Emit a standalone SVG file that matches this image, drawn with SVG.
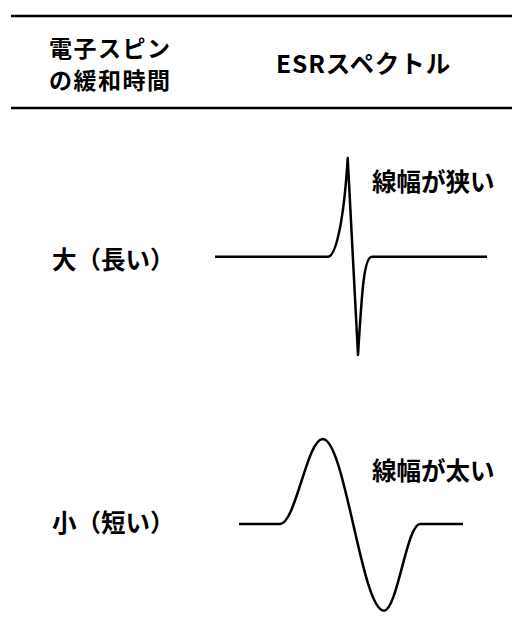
<svg xmlns="http://www.w3.org/2000/svg" width="512" height="635" viewBox="0 0 512 635">
<style>
.t{font-family:"Noto Sans CJK JP","Noto Sans",sans-serif;font-weight:bold;fill:#000;font-size:24.5px}
.h2{font-size:23px;letter-spacing:1.5px}
.rule{stroke:#000;stroke-width:2.5;fill:none}
.curve{stroke:#000;stroke-width:2.5;fill:none;stroke-linejoin:round;stroke-linecap:butt}
</style>
<rect width="512" height="635" fill="#fff"/>
<g id="header">
<line class="rule" x1="11" y1="16" x2="512" y2="16"/>
<line class="rule" x1="11" y1="108" x2="512" y2="108"/>
<text class="t h2" x="49" y="57">電子スピン</text>
<text class="t h2" x="49" y="88.5">の緩和時間</text>
<text class="t" x="276" y="73" letter-spacing="0.9">ESRスペクトル</text>
</g>
<g id="row-long">
<text class="t" x="52" y="269">大（長い）</text>
<text class="t" x="372" y="190.5">線幅が狭い</text>
</g>
<g id="row-short">
<text class="t" x="52" y="531.5">小（短い）</text>
<text class="t" x="372" y="479.5">線幅が太い</text>
</g>
<g id="connectors">
<path id="narrow" class="curve" d="M215,256.7 H328 C336,256.7 344,220 347.7,158 L358,355 C362,290 364,256.7 372,256.7 H487"/>
<path id="wide" class="curve" d="M239,524 H280 C295.5,524 307.2,439 322.7,439 C345,439 361.7,610.7 384,610.7 C397.1,610.7 406.9,524 420,524 H463"/>
</g>
</svg>
